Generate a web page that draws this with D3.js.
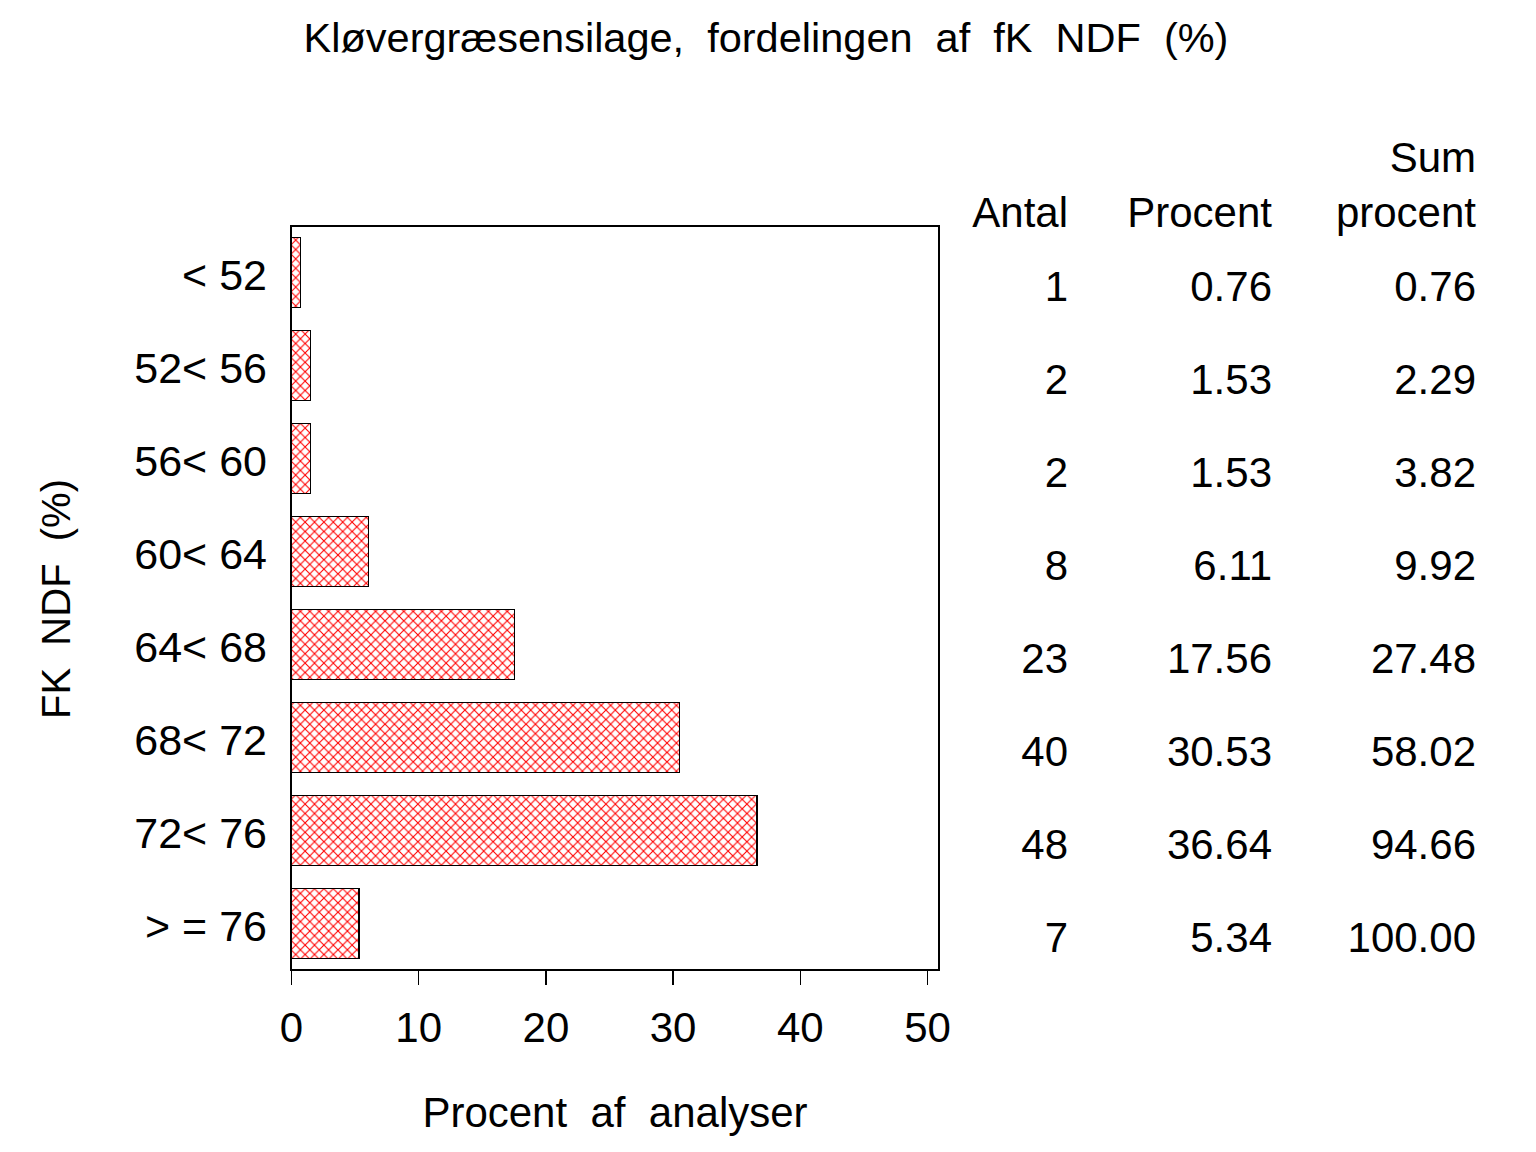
<!DOCTYPE html>
<html>
<head>
<meta charset="utf-8">
<script src="https://cdn.jsdelivr.net/npm/d3@7"></script>
<style>
html,body{margin:0;padding:0;background:#fff;}
text{font-family:"Liberation Sans",Arial,sans-serif;fill:#000;}
</style>
</head>
<body>
<svg id="chart" width="1536" height="1152"></svg>
<script>
const categories = ["< 52", "52< 56", "56< 60", "60< 64", "64< 68", "68< 72", "72< 76", "> = 76"];
const antal = [1, 2, 2, 8, 23, 40, 48, 7];
const procent = [0.76, 1.53, 1.53, 6.11, 17.56, 30.53, 36.64, 5.34];
const sumProcent = [0.76, 2.29, 3.82, 9.92, 27.48, 58.02, 94.66, 100.00];
const xTicks = [0, 10, 20, 30, 40, 50];
const titleText = "Kløvergræsensilage,  fordelingen  af  fK  NDF  (%)";
const xTitle = "Procent  af  analyser";
const yTitle = "FK  NDF  (%)";

(function () {
const svg = d3.select("#chart");
const pL = 291, pR = 939, pT = 226, pB = 970;

const defs = svg.append("defs");
const pat = defs.append("pattern").attr("id", "hatch")
  .attr("patternUnits", "userSpaceOnUse").attr("width", 9.4).attr("height", 9.4)
  .attr("x", pL).attr("y", pT);
pat.append("path").attr("d", "M0,0L9.4,9.4M9.4,0L0,9.4M-1,8.4L1,10.4M8.4,-1L10.4,1")
  .attr("stroke", "#ff0000").attr("stroke-width", 1.1).attr("fill", "none");

const x = d3.scaleLinear().domain([0, 50]).range([pL, 927]);
const y = d3.scaleBand().domain(categories).range([pT, pB]).paddingInner(0.247).paddingOuter(0.1235);

// frame
svg.append("rect").attr("x", pL).attr("y", pT).attr("width", pR - pL).attr("height", pB - pT)
  .attr("fill", "none").attr("stroke", "#000").attr("stroke-width", 1.3).attr("shape-rendering", "crispEdges");

// bars
svg.append("g").selectAll("rect").data(categories).join("rect")
  .attr("x", x(0)).attr("y", d => y(d))
  .attr("width", (d, i) => x(procent[i]) - x(0)).attr("height", y.bandwidth())
  .attr("fill", "url(#hatch)").attr("stroke", "#000").attr("stroke-width", 1.3)
  .attr("shape-rendering", "crispEdges");

// x axis
const xAxis = d3.axisBottom(x).tickValues(xTicks).tickSize(15).tickPadding(12).tickSizeOuter(0);
const gx = svg.append("g").attr("transform", `translate(0,${pB})`).call(xAxis);
gx.select(".domain").remove();
gx.selectAll(".tick line").attr("stroke", "#000").attr("stroke-width", 1.3).attr("shape-rendering", "crispEdges");
gx.selectAll(".tick text").attr("font-size", 42).attr("font-family", "Liberation Sans, Arial, sans-serif")
  .attr("fill", "#000").attr("dy", null).attr("y", 72);

// y axis labels
const yAxis = d3.axisLeft(y).tickSize(0).tickPadding(24);
const gy = svg.append("g").attr("transform", `translate(${pL},0)`).call(yAxis);
gy.select(".domain").remove();
gy.selectAll(".tick text").attr("font-size", 43).attr("font-family", "Liberation Sans, Arial, sans-serif")
  .attr("fill", "#000").attr("dy", "0.40em");

// titles
svg.append("text").attr("x", 766).attr("y", 52).attr("text-anchor", "middle")
  .attr("font-size", 41.5).style("white-space", "pre").text(titleText);
svg.append("text").attr("x", 615).attr("y", 1127).attr("text-anchor", "middle")
  .attr("font-size", 42).style("white-space", "pre").text(xTitle);
svg.append("text").attr("transform", "translate(70,599) rotate(-90)").attr("text-anchor", "middle")
  .attr("font-size", 40).style("white-space", "pre").text(yTitle);

// table
const cols = [
  {x: 1068, head: ["", "Antal"], vals: antal.map(v => String(v))},
  {x: 1272, head: ["", "Procent"], vals: procent.map(v => v.toFixed(2))},
  {x: 1476, head: ["Sum", "procent"], vals: sumProcent.map(v => v.toFixed(2))}
];
cols.forEach(c => {
  const g = svg.append("g").attr("text-anchor", "end").attr("font-size", 42);
  g.append("text").attr("x", c.x).attr("y", 172).text(c.head[0]);
  g.append("text").attr("x", c.x).attr("y", 227).text(c.head[1]);
  g.selectAll("text.v").data(categories).join("text").attr("class", "v")
    .attr("x", c.x).attr("y", d => y(d) + y.bandwidth() / 2 + 28)
    .text((d, i) => c.vals[i]);
});
})();
</script>
</body>
</html>
